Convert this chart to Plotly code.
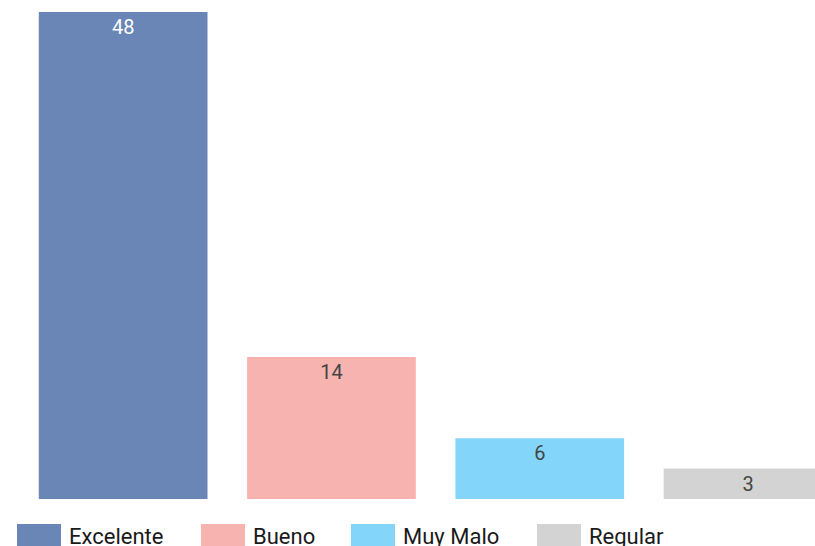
import plotly.graph_objects as go

categories = ["Excelente", "Bueno", "Muy Malo", "Regular"]
values = [48, 14, 6, 3]
colors = ["#6986b7", "#f7b3b0", "#83d5fa", "#d3d3d3"]
label_colors = ["#ffffff", "#444444", "#444444", "#444444"]

# layout (pixel) constants; body margin removed so figure sits at page origin
W, H = 815, 546
ML, MR, MT, MB = 19, 0, 12, 47
PW = W - ML - MR
PH = H - MT - MB
slot = 208.3

fig = go.Figure()
for cat, v, c, lc in zip(categories, values, colors, label_colors):
    fig.add_trace(go.Bar(
        x=[cat], y=[v], name=cat, marker_color=c, marker_line_width=0,
        text=[str(v)], textposition="inside", insidetextanchor="end",
        textfont=dict(color=lc, size=20, family="Roboto"),
        showlegend=False,
    ))

def px2paper_x(px):
    return (px - ML) / PW

def px2paper_y(py):
    return (H - MB - py) / PH

# custom legend (large swatches), laid out left to right (page pixels)
legend_x = [17, 201, 351, 537]
shapes = []
annotations = []
for cat, c, lx in zip(categories, colors, legend_x):
    shapes.append(dict(type="rect", xref="paper", yref="paper",
                       x0=px2paper_x(lx), x1=px2paper_x(lx + 44),
                       y0=px2paper_y(524), y1=px2paper_y(560),
                       fillcolor=c, line_width=0, layer="above"))
    annotations.append(dict(xref="paper", yref="paper",
                            x=px2paper_x(lx + 50), y=px2paper_y(536),
                            xanchor="left", yanchor="middle", showarrow=False,
                            text=cat, font=dict(size=22, color="#1a1a1a", family="Roboto")))

fig.update_layout(
    width=W, height=H,
    margin=dict(l=ML, r=MR, t=MT, b=MB, pad=0),
    paper_bgcolor="white", plot_bgcolor="white",
    barmode="overlay", bargap=0.19,
    font=dict(family="Roboto"),
    uniformtext=dict(minsize=20, mode="show"),
    xaxis=dict(range=[-0.5, -0.5 + PW / slot], showticklabels=False, showgrid=False,
               zeroline=False, showline=False, ticks=""),
    yaxis=dict(range=[0, 48], showticklabels=False, showgrid=False,
               zeroline=False, showline=False, ticks=""),
    shapes=shapes, annotations=annotations,
)

fig.write_html(
    "out.html",
    config={"displayModeBar": False},
    post_script=("document.body.style.margin='0';"
                 "document.documentElement.style.overflow='hidden';"
                 "document.body.style.overflow='hidden';"),
)
